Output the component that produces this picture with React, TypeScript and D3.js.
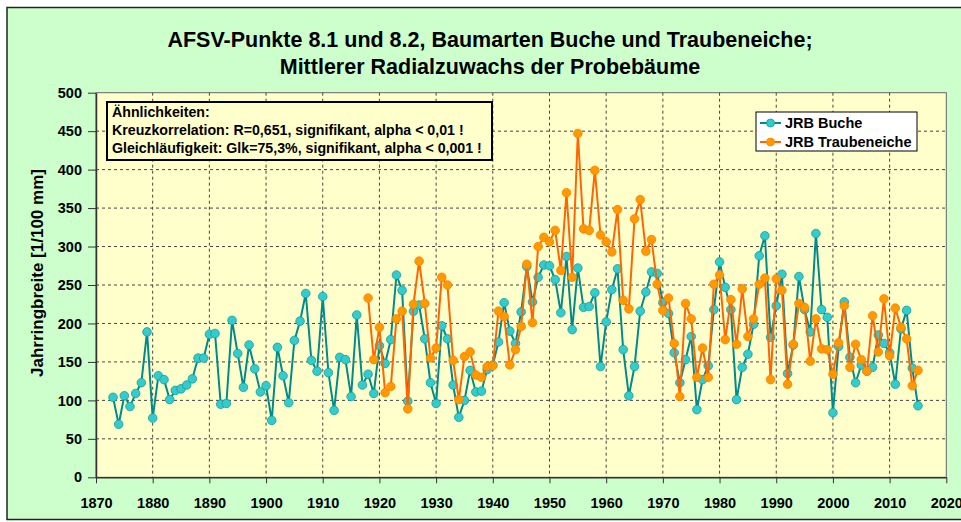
import React, { useEffect, useRef } from "react";
import * as d3 from "d3";

const title1 = "AFSV-Punkte 8.1 und 8.2, Baumarten Buche und Traubeneiche;";
const title2 = "Mittlerer Radialzuwachs der Probebäume";
const yLabel = "Jahrringbreite [1/100 mm]";
const notes = [
  "Ähnlichkeiten:",
  "Kreuzkorrelation: R=0,651, signifikant, alpha < 0,01 !",
  "Gleichläufigkeit: Glk=75,3%, signifikant, alpha < 0,001 !",
];
const seriesNames = ["JRB Buche", "JRB Traubeneiche"];

const xTicks = [1870, 1880, 1890, 1900, 1910, 1920, 1930, 1940, 1950, 1960, 1970, 1980, 1990, 2000, 2010, 2020];
const yTicks = [0, 50, 100, 150, 200, 250, 300, 350, 400, 450, 500];

// Buche, 1873-2015
const bucheStart = 1873;
const buche = [
  104, 69, 106, 92, 109, 123, 189, 77, 132, 127,
  101, 113, 115, 120, 128, 155, 155, 186, 187, 95,
  96, 204, 161, 117, 172, 141, 111, 119, 74, 169,
  132, 97, 178, 203, 239, 152, 138, 235, 136, 87,
  156, 153, 105, 211, 120, 134, 109, 171, 148, 179,
  263, 243, 99, 216, 224, 180, 123, 96, 197, 180,
  120, 78, 100, 139, 111, 112, 140, 146, 176, 227,
  190, 174, 215, 274, 228, 260, 276, 275, 257, 214,
  287, 192, 272, 221, 222, 240, 144, 202, 244, 271,
  166, 106, 144, 216, 241, 267, 265, 227, 213, 162,
  123, 153, 183, 88, 127, 145, 218, 280, 247, 218,
  101, 143, 160, 199, 288, 314, 182, 223, 264, 135,
  172, 261, 218, 189, 317, 218, 208, 84, 170, 228,
  156, 123, 146, 138, 143, 185, 174, 162, 121, 193,
  217, 142, 93,
];

// Traubeneiche, 1918-2015
const eicheStart = 1918;
const eiche = [
  233, 153, 195, 110, 118, 206, 216, 89, 225, 281,
  226, 155, 168, 260, 250, 152, 101, 157, 163, 133,
  130, 144, 145, 216, 209, 146, 166, 196, 277, 201,
  300, 312, 306, 321, 269, 370, 260, 447, 323, 321,
  399, 315, 306, 293, 348, 230, 219, 336, 361, 294,
  309, 251, 217, 233, 174, 105, 226, 206, 130, 168,
  130, 251, 263, 179, 231, 173, 245, 183, 206, 251,
  259, 127, 258, 243, 121, 173, 226, 221, 151, 206,
  167, 166, 134, 175, 223, 143, 173, 153, 138, 210,
  163, 232, 158, 220, 195, 180, 119, 139,
];

const FONT = "'Liberation Sans', Arial, Helvetica, sans-serif";

const App = () => {
  const svgRef = useRef<SVGSVGElement>(null);

  useEffect(() => {
    const W = 961;
    const H = 522;
    const margin = { top: 92.7, right: 14.7, bottom: 44.7, left: 96 };
    const width = W - margin.left - margin.right;
    const height = H - margin.top - margin.bottom;

    const root = d3.select(svgRef.current);
    root.selectAll("*").remove();
    root.attr("width", W).attr("height", H).style("font-family", FONT);

    root.append("rect").attr("width", W).attr("height", H).attr("fill", "#fff");
    root
      .append("rect")
      .attr("x", 7)
      .attr("y", 7.5)
      .attr("width", 970)
      .attr("height", 512)
      .attr("fill", "#ccffcc")
      .attr("stroke", "#222")
      .attr("stroke-width", 1.5);

    root
      .append("text")
      .attr("x", 490)
      .attr("y", 47)
      .attr("text-anchor", "middle")
      .attr("font-size", 21.5)
      .attr("font-weight", "bold")
      .text(title1);
    root
      .append("text")
      .attr("x", 490)
      .attr("y", 74)
      .attr("text-anchor", "middle")
      .attr("font-size", 21.5)
      .attr("font-weight", "bold")
      .text(title2);

    root
      .append("text")
      .attr("transform", `translate(43,${margin.top + height / 2 - 12}) rotate(-90)`)
      .attr("text-anchor", "middle")
      .attr("font-size", 17)
      .attr("font-weight", "bold")
      .text(yLabel);

    const svg = root.append("g").attr("transform", `translate(${margin.left},${margin.top})`);

    const x = d3.scaleLinear().domain([1870, 2020]).range([0, width]);
    const y = d3.scaleLinear().domain([0, 500]).range([height, 0]);

    svg
      .append("rect")
      .attr("width", width)
      .attr("height", height)
      .attr("fill", "#ffffcc")
      .attr("stroke", "#666")
      .attr("stroke-width", 1);

    // grid
    svg
      .append("g")
      .selectAll("line")
      .data(xTicks.slice(1, -1))
      .join("line")
      .attr("x1", (d) => x(d))
      .attr("x2", (d) => x(d))
      .attr("y1", 0)
      .attr("y2", height)
      .attr("stroke", "#444")
      .attr("stroke-dasharray", "3,3");
    svg
      .append("g")
      .selectAll("line")
      .data(yTicks.slice(1, -1))
      .join("line")
      .attr("x1", 0)
      .attr("x2", width)
      .attr("y1", (d) => y(d))
      .attr("y2", (d) => y(d))
      .attr("stroke", "#444")
      .attr("stroke-dasharray", "3,3");

    // axes
    const yAxis = svg
      .append("g")
      .call(d3.axisLeft(y).tickValues(yTicks).tickSize(8).tickSizeOuter(0).tickPadding(6));
    const xAxis = svg
      .append("g")
      .attr("transform", `translate(0,${height})`)
      .call(
        d3
          .axisBottom(x)
          .tickValues(xTicks)
          .tickFormat(d3.format("d"))
          .tickSize(6)
          .tickSizeOuter(0)
          .tickPadding(14)
      );
    [xAxis, yAxis].forEach((a) => {
      a.select(".domain").attr("stroke", "#333").attr("stroke-width", 1.5);
      a.selectAll(".tick line").attr("stroke", "#333");
      a.selectAll(".tick text")
        .attr("fill", "#000")
        .attr("font-size", 14.5)
        .attr("font-weight", "bold")
        .attr("font-family", FONT);
    });

    const series = [
      { name: seriesNames[0], start: bucheStart, values: buche, line: "#008b8b", fill: "#33cccc", edge: "#159a9a" },
      { name: seriesNames[1], start: eicheStart, values: eiche, line: "#ff6600", fill: "#ff9900", edge: "#ff8000" },
    ];

    series.forEach((s) => {
      const pts = s.values.map((v, i) => ({ yr: s.start + i, v }));
      const gen = d3
        .line<{ yr: number; v: number }>()
        .x((d) => x(d.yr))
        .y((d) => y(d.v));
      svg
        .append("path")
        .datum(pts)
        .attr("fill", "none")
        .attr("stroke", s.line)
        .attr("stroke-width", 2)
        .attr("d", gen);
      svg
        .append("g")
        .selectAll("circle")
        .data(pts)
        .join("circle")
        .attr("cx", (d) => x(d.yr))
        .attr("cy", (d) => y(d.v))
        .attr("r", 4.3)
        .attr("fill", s.fill)
        .attr("stroke", s.edge)
        .attr("stroke-width", 0.8);
    });

    // annotation box
    const note = root.append("g").attr("transform", "translate(107,102)");
    note
      .append("rect")
      .attr("width", 385)
      .attr("height", 58)
      .attr("fill", "#ffffcc")
      .attr("stroke", "#000")
      .attr("stroke-width", 2);
    note
      .selectAll("text")
      .data(notes)
      .join("text")
      .attr("x", 5)
      .attr("y", (d, i) => 15 + i * 18)
      .attr("font-size", 14.2)
      .attr("font-weight", "bold")
      .text((d) => d);

    // legend
    const leg = root.append("g").attr("transform", "translate(756,112)");
    leg
      .append("rect")
      .attr("width", 161)
      .attr("height", 39)
      .attr("fill", "#fff")
      .attr("stroke", "#000")
      .attr("stroke-width", 1);
    series.forEach((s, i) => {
      const ly = 11 + i * 19;
      leg
        .append("line")
        .attr("x1", 4)
        .attr("x2", 25)
        .attr("y1", ly)
        .attr("y2", ly)
        .attr("stroke", s.line)
        .attr("stroke-width", 2);
      leg
        .append("circle")
        .attr("cx", 14.5)
        .attr("cy", ly)
        .attr("r", 4)
        .attr("fill", s.fill)
        .attr("stroke", s.edge)
        .attr("stroke-width", 0.8);
      leg
        .append("text")
        .attr("x", 29)
        .attr("y", ly + 5)
        .attr("font-size", 14.5)
        .attr("font-weight", "bold")
        .text(s.name);
    });
  }, []);

  return <svg ref={svgRef} style={{ position: "absolute", left: 0, top: 0 }}></svg>;
};

export default App;
